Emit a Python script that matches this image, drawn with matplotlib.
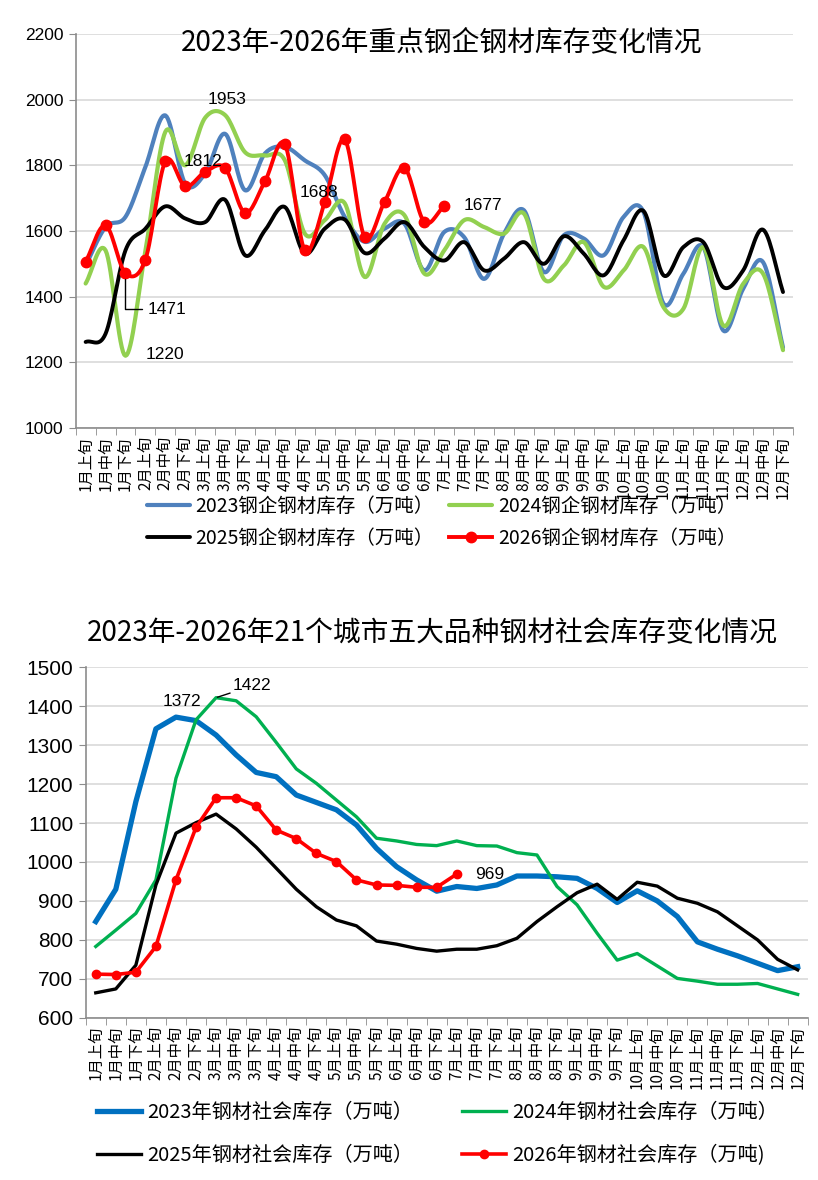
import numpy as np
import matplotlib
matplotlib.use('Agg')
import matplotlib.pyplot as plt
from matplotlib.ticker import MultipleLocator, FixedLocator

plt.rcParams['font.family'] = ['Noto Sans CJK SC', 'DejaVu Sans']

months = ['1月', '2月', '3月', '4月', '5月', '6月', '7月', '8月', '9月', '10月', '11月', '12月']
parts = ['上旬', '中旬', '下旬']
periods = [m + p for m in months for p in parts]

# 重点钢企钢材库存（万吨）
mill_2023 = [1495, 1612, 1643, 1795, 1952, 1744, 1775, 1896, 1724, 1836, 1856, 1815,
             1770, 1643, 1567, 1607, 1622, 1480, 1597, 1581, 1454, 1592, 1663, 1475,
             1587, 1577, 1526, 1643, 1658, 1379, 1470, 1551, 1297, 1424, 1505, 1245]
mill_2024 = [1440, 1541, 1220, 1540, 1902, 1800, 1945, 1953, 1840, 1830, 1815, 1592,
             1633, 1685, 1460, 1622, 1648, 1470, 1541, 1633, 1612, 1592, 1653, 1454,
             1495, 1566, 1430, 1480, 1551, 1368, 1363, 1551, 1312, 1439, 1470, 1237]
mill_2025 = [1262, 1287, 1541, 1607, 1675, 1638, 1627, 1695, 1526, 1602, 1673, 1531,
             1607, 1635, 1533, 1577, 1627, 1551, 1510, 1566, 1480, 1516, 1566, 1500,
             1584, 1531, 1465, 1572, 1661, 1465, 1551, 1566, 1429, 1480, 1604, 1414]
mill_2026 = [1506, 1617, 1471, 1513, 1812, 1736, 1780, 1792, 1655, 1751, 1864, 1541,
             1688, 1879, 1582, 1688, 1792, 1627, 1677]

# 21个城市五大品种钢材社会库存（万吨）
city_2023 = [847, 930, 1155, 1342, 1372, 1363, 1326, 1275, 1230, 1219, 1172, 1153,
             1134, 1095, 1035, 988, 954, 925, 937, 932, 941, 964, 964, 962,
             958, 932, 896, 926, 900, 860, 795, 776, 759, 740, 721, 731]
city_2024 = [783, 825, 868, 954, 1215, 1365, 1422, 1414, 1373, 1307, 1239, 1202,
             1159, 1116, 1061, 1054, 1045, 1042, 1054, 1042, 1041, 1024, 1018, 937,
             890, 817, 748, 765, 733, 701, 694, 686, 686, 688, 674, 660]
city_2025 = [664, 674, 735, 941, 1074, 1101, 1123, 1085, 1038, 984, 930, 885,
             851, 836, 797, 789, 778, 771, 776, 776, 785, 804, 847, 885,
             921, 943, 904, 948, 938, 907, 894, 872, 836, 800, 750, 723]
city_2026 = [712, 711, 717, 783, 954, 1089, 1165, 1165, 1144, 1082, 1060, 1022,
             1001, 954, 941, 940, 935, 935, 969]

title_top = '2023年-2026年重点钢企钢材库存变化情况'
title_bot = '2023年-2026年21个城市五大品种钢材社会库存变化情况'
labels_top = ['2023钢企钢材库存（万吨）', '2024钢企钢材库存（万吨）',
              '2025钢企钢材库存（万吨）', '2026钢企钢材库存（万吨）']
labels_bot = ['2023年钢材社会库存（万吨）', '2024年钢材社会库存（万吨）',
              '2025年钢材社会库存（万吨）', '2026年钢材社会库存（万吨)']


def smooth(y, steps=16):
    # Catmull-Rom curve through the points, like Excel's smoothed line
    y = np.asarray(y, float)
    p = np.concatenate([[2 * y[0] - y[1]], y, [2 * y[-1] - y[-2]]])
    t = np.linspace(0, 1, steps, endpoint=False)
    xs, ys = [], []
    for k in range(len(y) - 1):
        p0, p1, p2, p3 = p[k:k + 4]
        yy = 0.5 * (2 * p1 + (-p0 + p2) * t + (2 * p0 - 5 * p1 + 4 * p2 - p3) * t ** 2
                    + (-p0 + 3 * p1 - 3 * p2 + p3) * t ** 3)
        xs.append(k + t)
        ys.append(yy)
    xs.append([len(y) - 1])
    ys.append([y[-1]])
    return np.concatenate(xs), np.concatenate(ys)


def style_axes(ax, ylo, yhi, step, yfs):
    ax.set_xlim(-0.5, len(periods) - 0.5)
    ax.set_ylim(ylo, yhi)
    ax.yaxis.set_major_locator(MultipleLocator(step))
    ax.grid(axis='y', color='#d9d9d9', linewidth=1.2)
    ax.set_axisbelow(True)
    for s in ['top', 'right']:
        ax.spines[s].set_visible(False)
    for s in ['left', 'bottom']:
        ax.spines[s].set_color('#8c8c8c')
        ax.spines[s].set_linewidth(1.2)
    ax.set_xticks(range(len(periods)))
    ax.set_xticklabels(periods, rotation=90, fontsize=11)
    ax.xaxis.set_minor_locator(FixedLocator(np.arange(-0.5, len(periods), 1)))
    ax.tick_params(axis='x', which='major', length=0, pad=6)
    ax.tick_params(axis='x', which='minor', length=5, color='#8c8c8c')
    ax.tick_params(axis='y', length=5, color='#8c8c8c', labelsize=yfs, pad=4)
    for t in ax.get_yticklabels():
        t.set_fontfamily('Liberation Sans')


fig = plt.figure(figsize=(8.18, 11.8), dpi=100)

# ---------------- top chart ----------------
ax1 = fig.add_axes([0.0925, 0.6373, 0.8769, 0.3339])
style_axes(ax1, 1000, 2200, 200, 12.5)
top_series = [(mill_2023, '#4f81bd', 3.0), (mill_2024, '#92d050', 3.0),
              (mill_2025, '#000000', 2.8)]
handles1 = []
for vals, c, lw in top_series:
    xs, ys = smooth(vals)
    h, = ax1.plot(xs, ys, color=c, lw=lw, solid_capstyle='round')
    handles1.append(h)
xs, ys = smooth(mill_2026)
ax1.plot(xs, ys, color='#ff0000', lw=2.8)
ax1.plot(range(len(mill_2026)), mill_2026, 'o', color='#ff0000', ms=7.5)
h4, = ax1.plot([], [], color='#ff0000', lw=2.8, marker='o', ms=7.5)
handles1.append(h4)
fig.text(0.540, 1 - 42 / 1180, title_top, fontsize=20, ha='center', va='center')

lab = dict(fontsize=12.5, family='Liberation Sans', ha='center', va='center',
           textcoords='offset points')
ax1.annotate(str(mill_2024[7]), (7, mill_2024[7]), xytext=(1.5, 11.5), **lab)
ax1.annotate(str(mill_2026[4]), (4, mill_2026[4]), xytext=(27, 0), **lab)
ax1.annotate(str(mill_2026[12]), (12, mill_2026[12]), xytext=(-4, 7), **lab)
ax1.annotate(str(mill_2024[2]), (2, mill_2024[2]), xytext=(28.5, 1), **lab)
ax1.annotate(str(mill_2026[18]), (18, mill_2026[18]), xytext=(28, 0), **lab)
ax1.annotate(str(mill_2026[2]), (2, mill_2026[2]), xytext=(30, -26),
             arrowprops=dict(arrowstyle='-', color='black', lw=1,
                             connectionstyle='angle,angleA=0,angleB=90,rad=0',
                             shrinkA=2, shrinkB=4), **lab)

# legend fills column by column: reorder so rows read 2023/2024, 2025/2026
order = [0, 2, 1, 3]
fig.legend([handles1[k] for k in order], [labels_top[k] for k in order],
           loc='center', bbox_to_anchor=(0.54, 0.5576),
           ncol=2, frameon=False, fontsize=14, handlelength=2.2,
           columnspacing=0.8, labelspacing=0.55, handletextpad=0.3)

# ---------------- bottom chart ----------------
ax2 = fig.add_axes([0.1048, 0.1375, 0.8826, 0.2970])
style_axes(ax2, 600, 1500, 100, 15)
handles2 = []
bot_series = [(city_2023, '#0070c0', 3.8), (city_2024, '#00b050', 2.4),
              (city_2025, '#000000', 2.4)]
for vals, c, lw in bot_series:
    h, = ax2.plot(range(len(vals)), vals, color=c, lw=lw)
    handles2.append(h)
h4, = ax2.plot(range(len(city_2026)), city_2026, color='#ff0000', lw=2.6,
               marker='o', ms=6)
handles2.append(h4)
fig.text(0.528, 1 - 633 / 1180, title_bot, fontsize=20, ha='center', va='center')

ax2.annotate(str(city_2023[4]), (4, city_2023[4]), xytext=(4, 11), **lab)
ax2.annotate(str(city_2024[6]), (6, city_2024[6]), xytext=(26, 8.5),
             arrowprops=dict(arrowstyle='-', color='black', lw=1,
                             shrinkA=0, shrinkB=1), **lab)
ax2.annotate(str(city_2026[18]), (18, city_2026[18]), xytext=(24, 0), **lab)

fig.legend([handles2[k] for k in order], [labels_bot[k] for k in order],
           loc='center', bbox_to_anchor=(0.535, 0.039),
           ncol=2, frameon=False, fontsize=14.5, handlelength=2.2,
           columnspacing=2.4, labelspacing=1.1, handletextpad=0.3)

fig.savefig('out.png', dpi=100)
